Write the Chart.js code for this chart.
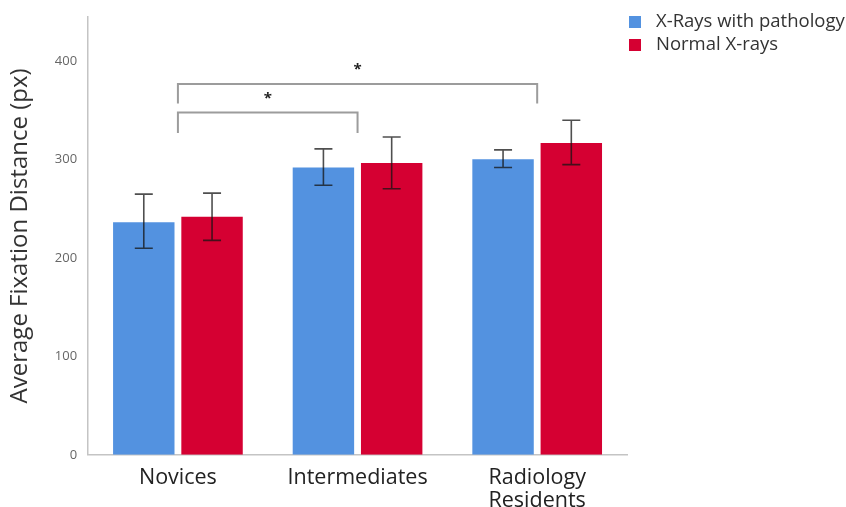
<!DOCTYPE html>
<html>
<head>
<meta charset="utf-8">
<script src="https://cdn.jsdelivr.net/npm/chart.js@4.4.1/dist/chart.umd.min.js"></script>
<style>
  html, body { margin: 0; padding: 0; background: #fff; }
  #wrap { width: 846px; height: 507px; }
</style>
</head>
<body>
<div id="wrap"><canvas id="fixChart" width="846" height="507"></canvas></div>
<script>
// data
const groups = ["Novices", "Intermediates", ["Radiology", "Residents"]];
const seriesNames = ["X-Rays with pathology", "Normal X-rays"];
const pathologyMean = [236.5, 292, 300.5];
const pathologyLow = [210, 274, 292];
const pathologyHigh = [265, 311, 310];
const normalMean = [242, 296.5, 317];
const normalLow = [218, 270.5, 295];
const normalHigh = [266, 323, 340];
const yTicks = [0, 100, 200, 300, 400];

// significance brackets: [from group, to group, bracket level, leg bottom]
const brackets = [
  [0, 2, 377, 357],
  [0, 1, 348, 327]
];

const FONT = "'Open Sans', 'DejaVu Sans', sans-serif";

/* ---- error bars ---- */
const errorBarsPlugin = {
  id: "errorBars",
  afterDatasetsDraw(chart) {
    const { ctx, scales } = chart;
    ctx.save();
    ctx.strokeStyle = "rgba(20, 20, 20, 0.75)";
    ctx.lineWidth = 1.6;
    chart.data.datasets.forEach((ds, di) => {
      const meta = chart.getDatasetMeta(di);
      meta.data.forEach((bar, i) => {
        const x = bar.x;
        const yLo = scales.y.getPixelForValue(ds.errLow[i]);
        const yHi = scales.y.getPixelForValue(ds.errHigh[i]);
        const cap = 9;
        ctx.beginPath();
        ctx.moveTo(x, yLo); ctx.lineTo(x, yHi);
        ctx.moveTo(x - cap, yHi); ctx.lineTo(x + cap, yHi);
        ctx.moveTo(x - cap, yLo); ctx.lineTo(x + cap, yLo);
        ctx.stroke();
      });
    });
    ctx.restore();
  }
};

/* ---- significance brackets + stars ---- */
const bracketPlugin = {
  id: "brackets",
  afterDraw(chart) {
    const { ctx, scales } = chart;
    ctx.save();
    ctx.strokeStyle = "#9c9c9c";
    ctx.lineWidth = 2;
    brackets.forEach(([a, b, level, leg]) => {
      const x1 = scales.x.getPixelForValue(a);
      const x2 = scales.x.getPixelForValue(b);
      const yl = scales.y.getPixelForValue(level);
      const yb = scales.y.getPixelForValue(leg);
      ctx.beginPath();
      ctx.moveTo(x1, yb);
      ctx.lineTo(x1, yl);
      ctx.lineTo(x2, yl);
      ctx.lineTo(x2, yb);
      ctx.stroke();
      ctx.fillStyle = "#222";
      ctx.font = "bold 15px " + FONT;
      ctx.textAlign = "center";
      ctx.textBaseline = "middle";
      ctx.fillText("*", (x1 + x2) / 2, yl - 14);
    });
    ctx.restore();
  }
};

/* ---- legend in the top right corner ---- */
const cornerLegend = {
  id: "cornerLegend",
  afterDraw(chart) {
    const { ctx } = chart;
    ctx.save();
    ctx.font = "18.5px " + FONT;
    ctx.textAlign = "left";
    ctx.textBaseline = "middle";
    chart.data.datasets.forEach((ds, i) => {
      const cy = 22 + i * 23;
      ctx.fillStyle = ds.backgroundColor;
      ctx.fillRect(629, cy - 6, 12, 12);
      ctx.fillStyle = "#333";
      ctx.fillText(ds.label, 656, cy);
    });
    ctx.restore();
  }
};

new Chart(document.getElementById("fixChart"), {
  type: "bar",
  data: {
    labels: groups,
    datasets: [
      {
        label: seriesNames[0],
        data: pathologyMean,
        errLow: pathologyLow,
        errHigh: pathologyHigh,
        backgroundColor: "#5392e0",
        barPercentage: 0.9,
        categoryPercentage: 0.76
      },
      {
        label: seriesNames[1],
        data: normalMean,
        errLow: normalLow,
        errHigh: normalHigh,
        backgroundColor: "#d50032",
        barPercentage: 0.9,
        categoryPercentage: 0.76
      }
    ]
  },
  options: {
    responsive: false,
    animation: false,
    layout: {
      padding: { top: 17, right: 219, bottom: -9, left: 4 }
    },
    plugins: {
      legend: { display: false },
      tooltip: { enabled: false }
    },
    scales: {
      x: {
        grid: { display: false },
        border: { color: "#c4c4c4", width: 1.5 },
        ticks: {
          color: "#222",
          padding: 4,
          font: { family: FONT, size: 21.5, lineHeight: 1.05 }
        }
      },
      y: {
        min: 0,
        max: 445,
        grid: { display: false },
        border: { color: "#c4c4c4", width: 1.5 },
        afterBuildTicks: axis => {
          axis.ticks = yTicks.map(v => ({ value: v }));
        },
        ticks: {
          color: "#666",
          padding: 3,
          font: { family: FONT, size: 13 }
        },
        title: {
          display: true,
          text: "Average Fixation Distance (px)",
          color: "#333",
          padding: { top: 2, bottom: 17 },
          font: { family: FONT, size: 24 }
        }
      }
    }
  },
  plugins: [errorBarsPlugin, bracketPlugin, cornerLegend]
});
</script>
</body>
</html>
